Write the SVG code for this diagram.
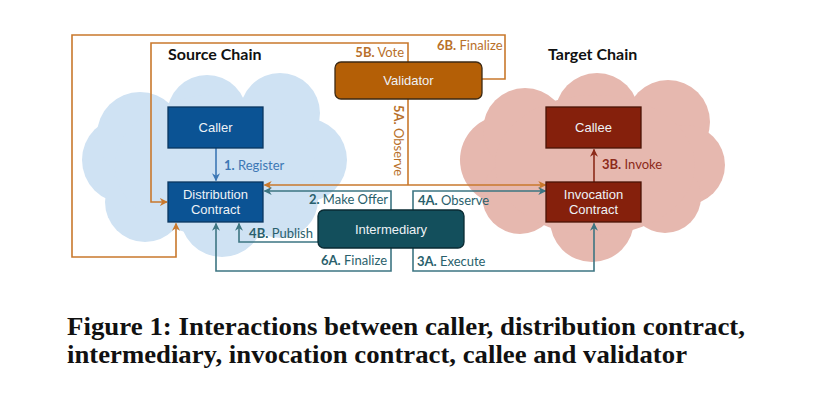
<svg xmlns="http://www.w3.org/2000/svg" width="823" height="400" viewBox="0 0 823 400">
<style>
.box{stroke-width:1.3}
.blue{fill:#0b5394;stroke:#0a3660}
.red{fill:#85200c;stroke:#4a1306}
.val{fill:#b45f06;stroke:#3d2a14}
.int{fill:#134f5c;stroke:#0a2b33}
.bt{font-family:"Liberation Sans",Arial,sans-serif;font-size:13px;fill:#eef2f6;text-anchor:middle}
.lb{font-family:Lato,"Open Sans",sans-serif;font-size:13px}
.lb .n{font-weight:bold}
.title{font-family:Lato,"Open Sans",sans-serif;font-size:16px;font-weight:bold;fill:#111}
.o{fill:none;stroke:#c9782c;stroke-width:1.6}
.t{fill:none;stroke:#3d7582;stroke-width:1.6}
.bl{fill:none;stroke:#3d78b5;stroke-width:1.6}
.rd{fill:none;stroke:#8c2a1a;stroke-width:1.6}
.cap{font-family:"Liberation Serif","Times New Roman",serif;font-size:25px;font-weight:bold;fill:#111}
</style>
<defs>
<marker id="ao" viewBox="0 0 10 10" refX="9" refY="5" markerWidth="8" markerHeight="8" markerUnits="userSpaceOnUse" orient="auto-start-reverse"><path d="M0,0 L10,5 L0,10 L3,5 z" fill="#c9782c"/></marker>
<marker id="at" viewBox="0 0 10 10" refX="9" refY="5" markerWidth="8" markerHeight="8" markerUnits="userSpaceOnUse" orient="auto-start-reverse"><path d="M0,0 L10,5 L0,10 L3,5 z" fill="#3d7582"/></marker>
<marker id="ab" viewBox="0 0 10 10" refX="9" refY="5" markerWidth="8" markerHeight="8" markerUnits="userSpaceOnUse" orient="auto-start-reverse"><path d="M0,0 L10,5 L0,10 L3,5 z" fill="#3d78b5"/></marker>
<marker id="ar" viewBox="0 0 10 10" refX="9" refY="5" markerWidth="8" markerHeight="8" markerUnits="userSpaceOnUse" orient="auto-start-reverse"><path d="M0,0 L10,5 L0,10 L3,5 z" fill="#8c2a1a"/></marker>
</defs>
<rect width="823" height="400" fill="#fff"/>

<g id="source-cloud" fill="#cfe2f3">
<circle cx="125" cy="160" r="43"/>
<circle cx="140" cy="135" r="43"/>
<circle cx="207" cy="115" r="40"/>
<circle cx="280" cy="113" r="40"/>
<circle cx="305" cy="160" r="42"/>
<circle cx="280" cy="200" r="38"/>
<circle cx="222" cy="215" r="42"/>
<circle cx="145" cy="202" r="40"/>
<ellipse cx="215" cy="165" rx="100" ry="70"/>
</g>
<g id="target-cloud" fill="#e6b8af">
<circle cx="505" cy="160" r="45"/>
<circle cx="525" cy="130" r="42"/>
<circle cx="597" cy="115" r="42"/>
<circle cx="668" cy="122" r="42"/>
<circle cx="685" cy="165" r="40"/>
<circle cx="665" cy="197" r="36"/>
<circle cx="592" cy="220" r="42"/>
<circle cx="520" cy="196" r="38"/>
<ellipse cx="595" cy="165" rx="100" ry="70"/>
</g>

<text class="title" x="168" y="60">Source Chain</text>
<text class="title" x="548" y="60">Target Chain</text>

<g id="connectors">
<path class="o" d="M482,79 H505 V35 H72 V257 H176 V223.5" marker-end="url(#ao)"/>
<path class="o" d="M408,62 V43 H151 V202 H167" marker-end="url(#ao)"/>
<path class="o" d="M408,99 V185"/>
<path class="o" d="M264.5,185 H545.5" marker-start="url(#ao)" marker-end="url(#ao)"/>
<path class="bl" d="M216,148 V180.5" marker-end="url(#ab)"/>
<path class="rd" d="M594,182 V149.5" marker-end="url(#ar)"/>
<path class="t" d="M391,210 V191 H264.5" marker-end="url(#at)"/>
<path class="t" d="M413,210 V191 H545.5" marker-end="url(#at)"/>
<path class="t" d="M318,242 H239 V223.5" marker-end="url(#at)"/>
<path class="t" d="M391,248 V271 H216 V223.5" marker-end="url(#at)"/>
<path class="t" d="M413,248 V271 H594 V223.5" marker-end="url(#at)"/>
</g>

<g id="labels">
<text class="lb" x="404" y="57" text-anchor="end" fill="#b8702a"><tspan class="n">5B.</tspan> Vote</text>
<text class="lb" x="437" y="50" fill="#b8702a"><tspan class="n">6B.</tspan> Finalize</text>
<text class="lb" transform="translate(394,105) rotate(90)" fill="#b8702a"><tspan class="n">5A.</tspan> Observe</text>
<text class="lb" x="224" y="170" fill="#3d78b5"><tspan class="n">1.</tspan> Register</text>
<text class="lb" x="602" y="169" fill="#8c2a1a"><tspan class="n">3B.</tspan> Invoke</text>
<text class="lb" x="388" y="204" text-anchor="end" fill="#2a5f6c"><tspan class="n">2.</tspan> Make Offer</text>
<text class="lb" x="418" y="205" fill="#2a5f6c"><tspan class="n">4A.</tspan> Observe</text>
<text class="lb" x="313" y="238" text-anchor="end" fill="#2a5f6c"><tspan class="n">4B.</tspan> Publish</text>
<text class="lb" x="387" y="265" text-anchor="end" fill="#2a5f6c"><tspan class="n">6A.</tspan> Finalize</text>
<text class="lb" x="417" y="266" fill="#2a5f6c"><tspan class="n">3A.</tspan> Execute</text>
</g>

<g id="caller"><rect class="box blue" x="168" y="107" width="95" height="41"/><text class="bt" x="215.5" y="132">Caller</text></g>
<g id="distribution"><rect class="box blue" x="168" y="182" width="95" height="40"/><text class="bt" x="215.5" y="199">Distribution</text><text class="bt" x="215.5" y="214">Contract</text></g>
<g id="callee"><rect class="box red" x="546" y="107" width="95" height="41"/><text class="bt" x="593.5" y="132">Callee</text></g>
<g id="invocation"><rect class="box red" x="546" y="182" width="95" height="40"/><text class="bt" x="593.5" y="199">Invocation</text><text class="bt" x="593.5" y="214">Contract</text></g>
<g id="validator"><rect class="box val" x="335" y="62" width="147" height="37" rx="6"/><text class="bt" x="408.5" y="85">Validator</text></g>
<g id="intermediary"><rect class="box int" x="318" y="210" width="146" height="38" rx="6"/><text class="bt" x="391" y="234">Intermediary</text></g>

<text class="cap" x="67" y="335" textLength="678" lengthAdjust="spacingAndGlyphs">Figure 1: Interactions between caller, distribution contract,</text>
<text class="cap" x="67" y="363" textLength="620" lengthAdjust="spacingAndGlyphs">intermediary, invocation contract, callee and validator</text>
</svg>
